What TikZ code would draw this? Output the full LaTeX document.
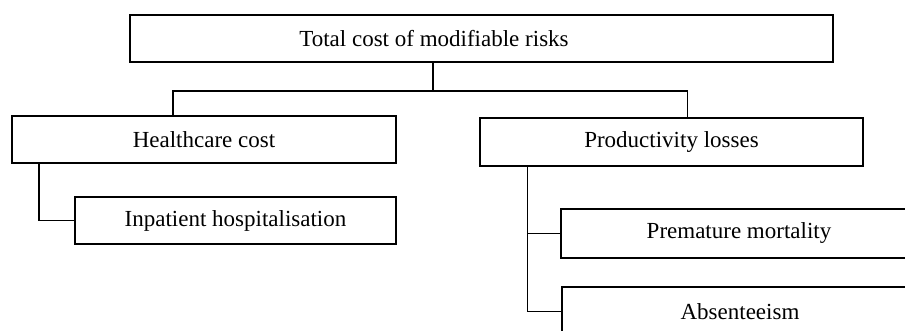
\documentclass[tikz,border=0pt]{standalone}
\usepackage{fontspec}
\setmainfont{Liberation Serif}
\begin{document}
\begin{tikzpicture}[x=1pt,y=-1pt,
  txt/.style={font=\fontsize{23}{27}\selectfont},
  box/.style={draw=black,line width=1.8pt,inner sep=0pt,txt},
  link/.style={draw=black,line width=1.3pt}]
\useasboundingbox (0,0) rectangle (905,331);
\clip (0,0) rectangle (905,331);
\fill[white] (0,0) rectangle (905,331);
% boxes
\node[box,minimum width=703pt,minimum height=47pt,
  label={[txt,inner sep=0pt,xshift=-47.5pt]center:Total cost of modifiable risks}] (top) at (481.5,38.5) {};
\node[box,minimum width=384pt,minimum height=47pt] (health) at (204,139.5) {Healthcare cost};
\node[box,minimum width=383pt,minimum height=48pt] (prod) at (671.5,142) {Productivity losses};
\node[box,minimum width=321pt,minimum height=47pt] (inpat) at (235.5,220.5) {Inpatient hospitalisation};
\node[box,minimum width=356pt,minimum height=49pt] (prem) at (739,233.5) {Premature mortality};
\node[box,minimum width=356pt,minimum height=49pt] (abs) at (740,311.5) {Absenteeism};
% connector helpers
\coordinate (hubx) at (433,91);
\coordinate (lx) at (173,91);
\coordinate (rx) at (687.5,91);
\coordinate (hx) at (39,0);
\coordinate (px) at (527.5,0);
% connectors
\draw[link] (top.south -| hubx) -- (hubx);
\draw[link] (health.north -| lx) -- (lx) -- (rx) -- (prod.north -| rx);
\draw[link] (health.south -| hx) |- (inpat.west);
\draw[link] (prod.south -| px) |- (abs.west);
\draw[link] (prem.west) -| (prod.south -| px);
\end{tikzpicture}
\end{document}
